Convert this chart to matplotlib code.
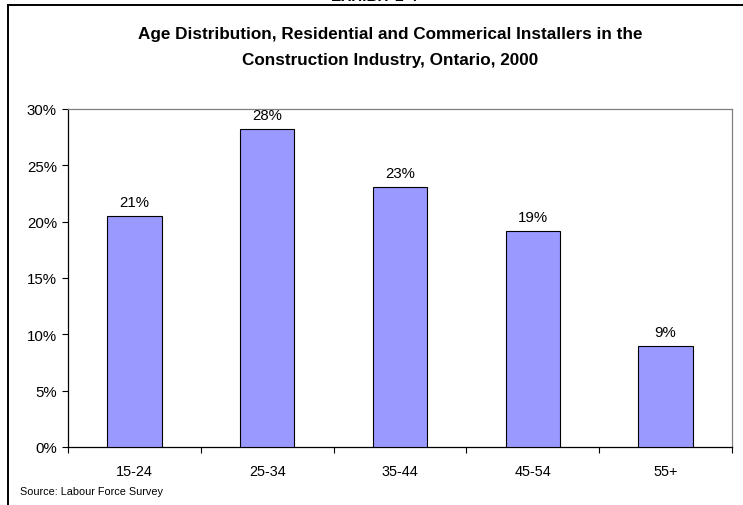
import matplotlib
matplotlib.use("Agg")
import matplotlib.pyplot as plt
from matplotlib.lines import Line2D
from matplotlib.ticker import FuncFormatter, FixedLocator, NullFormatter

categories = ["15-24", "25-34", "35-44", "45-54", "55+"]
values = [20.5, 28.2, 23.1, 19.2, 9.0]
labels = ["21%", "28%", "23%", "19%", "9%"]
yticks = [0, 5, 10, 15, 20, 25, 30]

title_lines = ["Age Distribution, Residential and Commerical Installers in the",
               "Construction Industry, Ontario, 2000"]
source = "Source: Labour Force Survey"
exhibit = "EXHIBIT 2-4"

plt.rcParams['font.family'] = ['Liberation Sans', 'DejaVu Sans']

W, H = 743, 506
fig = plt.figure(figsize=(W / 100, H / 100), dpi=100)
fig.patch.set_facecolor('white')

ax = fig.add_axes([68 / W, 1 - 448 / H, (732 - 68) / W, (448 - 110) / H])
x = list(range(len(categories)))
ax.bar(x, values, width=0.41, color='#9999FF', edgecolor='black', linewidth=0.8, zorder=3)
for xi, v, lab in zip(x, values, labels):
    ax.annotate(lab, (xi, v), xytext=(0, 5), textcoords='offset points',
                ha='center', va='bottom', fontsize=10.8)

ax.set_xlim(-0.5, len(categories) - 0.5)
ax.set_ylim(0, 30)
ax.set_yticks(yticks)
ax.yaxis.set_major_formatter(FuncFormatter(lambda v, p: f"{int(v)}%"))
ax.xaxis.set_major_locator(FixedLocator([i - 0.5 for i in range(len(categories) + 1)]))
ax.xaxis.set_major_formatter(NullFormatter())
ax.xaxis.set_minor_locator(FixedLocator(x))
ax.set_xticklabels(categories, minor=True)
ax.tick_params(axis='x', which='minor', length=0, pad=12, labelsize=10.4)
ax.tick_params(axis='x', which='major', direction='out', length=4, width=0.8)
ax.tick_params(axis='y', direction='out', length=4, width=0.8, labelsize=10.8, pad=4)

for s in ['left', 'bottom']:
    ax.spines[s].set_color('black')
    ax.spines[s].set_linewidth(0.9)
for s in ['right', 'top']:
    ax.spines[s].set_color('#808080')
    ax.spines[s].set_linewidth(0.9)

fig.text(390 / W, 1 - 34 / H, title_lines[0], ha='center', va='center', fontsize=12.3,
         fontweight='bold')
fig.text(390 / W, 1 - 60 / H, title_lines[1], ha='center', va='center', fontsize=12.3,
         fontweight='bold')
fig.text(20 / W, 1 - 492 / H, source, ha='left', va='center', fontsize=7.8)
fig.text(374 / W, 1 + 3 / H, exhibit, ha='center', va='center', fontsize=11,
         fontweight='bold')

fig.add_artist(Line2D([8 / W, 8 / W], [0, 1 - 6 / H], transform=fig.transFigure,
                      color='black', linewidth=1.4, solid_capstyle='projecting'))
fig.add_artist(Line2D([8 / W, 1], [1 - 6 / H, 1 - 6 / H], transform=fig.transFigure,
                      color='black', linewidth=1.4, solid_capstyle='projecting'))

fig.savefig("out.png", dpi=100, facecolor='white')
